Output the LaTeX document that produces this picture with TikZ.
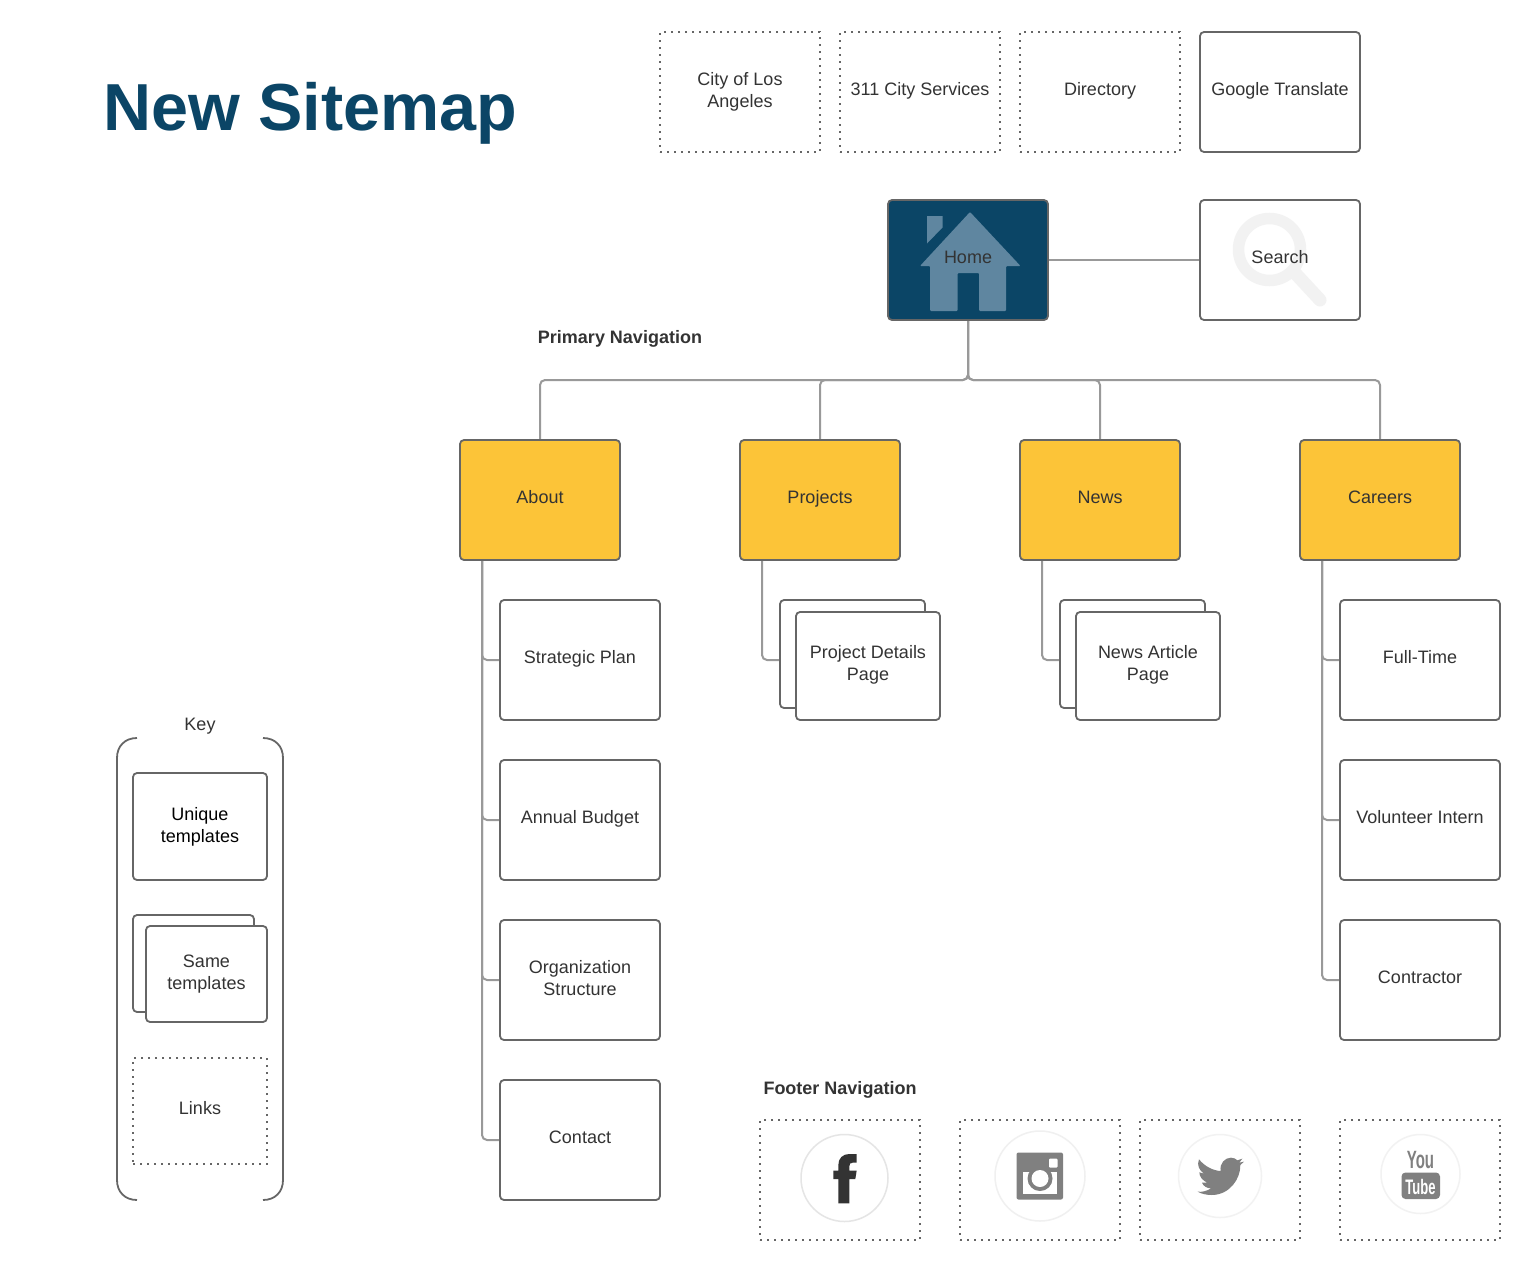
\documentclass[tikz,border=0pt]{standalone}
\usepackage{fontspec}
\setmainfont{Liberation Sans}
\usetikzlibrary{backgrounds}

\definecolor{navy}{HTML}{0B4566}
\definecolor{roofblue}{HTML}{5F86A0}
\definecolor{sectionyellow}{HTML}{FCC438}
\definecolor{edgegray}{HTML}{666666}
\definecolor{linkgray}{HTML}{999999}
\definecolor{inkgray}{HTML}{333333}
\definecolor{icongray}{HTML}{808080}

\tikzset{
  pagebox/.style={draw=edgegray,line width=1.8pt,rounded corners=4pt,fill=white,
    minimum width=160pt,minimum height=120pt,inner sep=0pt,outer sep=0pt},
  linkbox/.style={pagebox,rounded corners=0pt,dash pattern=on 2pt off 5pt},
  sectionbox/.style={pagebox,fill=sectionyellow},
  stackback/.style={pagebox,minimum width=145pt,minimum height=108pt},
  stackfront/.style={pagebox,minimum width=144pt,minimum height=108pt},
  pagetext/.style={font=\fontsize{18}{22}\selectfont,text=inkgray,align=center,yshift=1.5pt,inner sep=0pt,
    execute at begin node={\rule{0pt}{14pt}},execute at end node={\rule[-4pt]{0pt}{4pt}}},
  pagetwo/.style={pagetext,yshift=-1.5pt},
  headtext/.style={font=\fontsize{18}{22}\selectfont\bfseries,text=inkgray},
  conn/.style={draw=linkgray,line width=2pt,rounded corners=5pt},
  ringicon/.style={line width=1.5pt,fill=white}
}

\begin{document}
\begin{tikzpicture}[x=1pt,y=-1pt]
\useasboundingbox (0,0) rectangle (1540,1280);

\node[font=\fontsize{66.5}{70}\selectfont\bfseries,text=navy,anchor=base west,inner sep=0pt] (title) at (103,130.5) {New Sitemap};

% top row
\node[linkbox,label={[pagetwo]center:City of Los\\Angeles}] (cityla) at (740,92) {};
\foreach \name/\x/\txt in {cityservices/920/311 City Services,directory/1100/Directory}
{
\node[linkbox,label={[pagetext]center:\txt}] (\name) at (\x,92) {};
}
\node[pagebox,label={[pagetext]center:Google Translate}] (translate) at (1280,92) {};

% home and search
\node[pagebox,fill=navy] (home) at (968,260) {};
\fill[roofblue,rounded corners=1pt] (920,266) -- (970,212) -- (1020.5,266) -- (1006,266) -- (1006,311) -- (979,311)
  -- (979,273) -- (957.5,273) -- (957.5,311) -- (930,311) -- (930,266) -- cycle;
\fill[roofblue] (927,216) -- (942.5,216) -- (942.5,227.5) -- (927,243.5) -- cycle;
\node[pagetext] (hometext) at (968,260) {Home};

\node[pagebox] (search) at (1280,260) {};
\draw[line width=11.5pt,color=black!5] (1269.5,249.5) circle (31);
\draw[line width=13pt,color=black!5,line cap=round] (1295,273) -- (1320,300);
\node[pagetext] (searchtext) at (1280,260) {Search};

\node[headtext] (primary) at (620,339) {Primary Navigation};

% sections
\foreach \name/\x/\txt in {about/540/About,projects/820/Projects,news/1100/News,careers/1380/Careers}
{
\node[sectionbox,label={[pagetext]center:\txt}] (\name) at (\x,500) {};
}

% pages below the sections
\foreach \name/\x/\y/\txt in {strategic/580/660/Strategic Plan,budget/580/820/Annual Budget,
  contact/580/1140/Contact,fulltime/1420/660/Full-Time,volunteer/1420/820/Volunteer Intern,
  contractor/1420/980/Contractor}
{
\node[pagebox,label={[pagetext]center:\txt}] (\name) at (\x,\y) {};
}
\node[pagebox,label={[pagetwo]center:Organization\\Structure}] (structure) at (580,980) {};

\foreach \name/\x/\txt in {project/852.5/Project Details\\Page,article/1132.5/News Article\\Page}
{
\node[stackback] (\name back) at (\x,654) {};
\node[stackfront,label={[pagetwo,yshift=1pt]center:\txt}] (\name) at (\x+15.5,666) {};
}

% connectors go under the boxes
\coordinate (bus) at (968,380);
\coordinate (aboutdrop) at (482,560);
\coordinate (projectsdrop) at (762,560);
\coordinate (newsdrop) at (1042,560);
\coordinate (careersdrop) at (1322,560);
\begin{scope}[on background layer]
\draw[conn] (home) -- (search);
\foreach \name in {about,projects,news,careers}
{
\draw[conn] (home.south) -- (bus) -| (\name.north);
}
\foreach \name in {strategic,budget,structure,contact}
{
\draw[conn] (aboutdrop) |- (\name.west);
}
\foreach \name in {fulltime,volunteer,contractor}
{
\draw[conn] (careersdrop) |- (\name.west);
}
\draw[conn] (projectsdrop) |- (projectback.west |- strategic.west);
\draw[conn] (newsdrop) |- (articleback.west |- strategic.west);
\end{scope}

% key
\node[pagetext] (key) at (200,726.5) {Key};
\draw[draw=edgegray,line width=1.8pt] (137,738) .. controls (125,738) and (117,746) .. (117,758) -- (117,1180)
  .. controls (117,1192) and (125,1200) .. (137,1200);
\draw[draw=edgegray,line width=1.8pt] (263,738) .. controls (275,738) and (283,746) .. (283,758) -- (283,1180)
  .. controls (283,1192) and (275,1200) .. (263,1200);
\node[pagebox,minimum width=134pt,minimum height=107pt,label={[pagetwo,text=black]center:Unique\\templates}] (unique) at (200,826.5) {};
\node[stackback,minimum width=121pt,minimum height=97pt] (sameback) at (193.5,963.5) {};
\node[stackfront,minimum width=121pt,minimum height=96pt,label={[pagetwo]center:Same\\templates}] (same) at (206.5,974) {};
\node[linkbox,minimum width=134pt,minimum height=106pt,label={[pagetext]center:Links}] (links) at (200,1111) {};

% footer
\node[headtext] (footer) at (840,1090) {Footer Navigation};
\foreach \name/\x in {facebook/840,instagram/1040,twitter/1220,youtube/1420}
{
\node[linkbox] (\name) at (\x,1180) {};
}

\draw[ringicon,draw=black!10] (844.5,1178) circle (43.5);
\begin{scope}[shift={(750,1110)},scale=0.3333]
\fill[inkgray] (320,132) -- (320,158) -- (308,158) .. controls (300,158) and (298,162) .. (298,170) -- (298,182) -- (320,182)
  -- (316,207) -- (298,207) -- (298,280) -- (265,280) -- (265,207) -- (250,207) -- (250,182) -- (265,182) -- (265,165)
  .. controls (265,145) and (278,132) .. (298,132) -- cycle;
\end{scope}

\draw[ringicon,draw=black!6] (1040,1176) circle (45);
\fill[icongray,rounded corners=2pt] (1016.5,1152.5) rectangle (1063,1199.5);
\fill[white] (1022.5,1171.5) rectangle (1056.5,1193.5);
\fill[white,rounded corners=1pt] (1049,1158.5) rectangle (1057.5,1167.5);
\fill[icongray] (1040,1178.5) circle (12.5);
\fill[white] (1040,1178.5) circle (8.5);

\draw[ringicon,draw=black!5] (1220,1176) circle (41.5);
\begin{scope}[shift={(1130,1110)},scale=0.3333]
\fill[icongray] (207,148) .. controls (225,170) and (250,182) .. (272,183) .. controls (268,160) and (285,143) .. (303,143)
  .. controls (312,143) and (318,147) .. (322,151) -- (337,146) -- (328,158) -- (342,155) -- (331,165)
  .. controls (332,205) and (300,255) .. (245,255) .. controls (230,255) and (215,252) .. (203,245)
  .. controls (215,247) and (232,243) .. (243,235) .. controls (230,235) and (220,228) .. (216,218) -- (232,218)
  .. controls (218,212) and (208,200) .. (208,187) -- (222,191) .. controls (207,180) and (200,165) .. (207,148) -- cycle;
\end{scope}

\draw[ringicon,draw=black!5] (1420.5,1174) circle (39.5);
\fill[icongray,rounded corners=4pt] (1401.5,1172.5) rectangle (1440,1199);
\node[font=\fontsize{25}{25}\selectfont\bfseries,text=icongray,xscale=0.6,inner sep=0pt] (you) at (1420.5,1160) {You};
\node[font=\fontsize{21}{21}\selectfont\bfseries,text=white,xscale=0.62,inner sep=0pt] (tube) at (1420.5,1186.5) {Tube};
\end{tikzpicture}
\end{document}
